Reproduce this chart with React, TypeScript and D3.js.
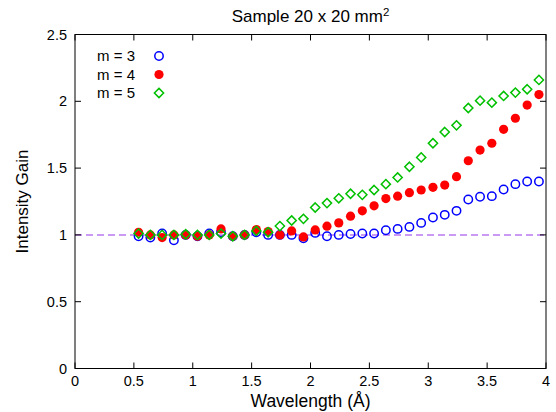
import React from "react"
import { scaleLinear, line } from "d3"

const wavelength = [
  0.54, 0.64, 0.74, 0.84, 0.94, 1.04, 1.14, 1.24, 1.34, 1.44, 1.54, 1.64,
  1.74, 1.84, 1.94, 2.04, 2.14, 2.24, 2.34, 2.44, 2.54, 2.64, 2.74, 2.84,
  2.94, 3.04, 3.14, 3.24, 3.34, 3.44, 3.54, 3.64, 3.74, 3.84, 3.94
]
const gainM3 = [
  0.99, 0.98, 1.01, 0.96, 1.0, 0.99, 1.01, 1.02, 0.99, 1.0, 1.02, 1.0,
  1.0, 1.0, 0.975, 1.015, 0.99, 1.0, 1.007, 1.01, 1.01, 1.035, 1.045, 1.06,
  1.09, 1.13, 1.15, 1.18, 1.265, 1.285, 1.29, 1.34, 1.38, 1.4, 1.4
]
const gainM4 = [
  1.02, 1.0, 0.98, 1.0, 1.0, 0.99, 1.0, 1.045, 0.99, 1.0, 1.04, 1.025,
  1.0, 1.03, 0.985, 1.037, 1.065, 1.09, 1.14, 1.18, 1.218, 1.272, 1.29, 1.316,
  1.336, 1.356, 1.373, 1.436, 1.555, 1.635, 1.686, 1.79, 1.873, 1.972, 2.05
]
const gainM5 = [
  1.01, 1.0, 1.0, 1.0, 1.005, 1.0, 1.0, 1.01, 0.99, 1.0, 1.03, 1.02,
  1.066, 1.108, 1.12, 1.205, 1.238, 1.274, 1.308, 1.3, 1.336, 1.38, 1.43, 1.51,
  1.58, 1.686, 1.77, 1.82, 1.95, 2.005, 1.99, 2.04, 2.065, 2.09, 2.16
]
const xTicks = [0, 0.5, 1, 1.5, 2, 2.5, 3, 3.5, 4]
const yTicks = [0, 0.5, 1, 1.5, 2, 2.5]
const legendLabels = ["m = 3", "m = 4", "m = 5"]

const font = "'Liberation Sans', Arial, sans-serif"

export default function App() {
  const W = 556
  const H = 412
  const margin = { top: 34.5, right: 10, bottom: 43.5, left: 75 }
  const x = scaleLinear().domain([0, 4]).range([margin.left, W - margin.right])
  const y = scaleLinear().domain([0, 2.5]).range([H - margin.bottom, margin.top])
  const tick = 6
  const d = 4.6
  const diamond = line()([[0, -d], [d, 0], [0, d], [-d, 0]]) + "Z"

  const blue = "#0000ff"
  const red = "#ff0000"
  const green = "#00c000"

  const marker = (k: number, cx: number, cy: number, key: string) => {
    if (k === 0)
      return <circle key={key} cx={cx} cy={cy} r={4.2} fill="none" stroke={blue} strokeWidth={1.5} />
    if (k === 1)
      return <circle key={key} cx={cx} cy={cy} r={4.6} fill={red} />
    return (
      <path key={key} d={diamond} transform={`translate(${cx},${cy})`}
        fill="none" stroke={green} strokeWidth={1.5} />
    )
  }

  const series = [gainM3, gainM4, gainM5]

  return (
    <svg width={W} height={H} style={{ position: "absolute", left: 0, top: 0 }} fontFamily={font}>
      <rect width={W} height={H} fill="#fff" />
      {/* dashed reference line */}
      <line x1={x(0)} x2={x(4)} y1={y(1)} y2={y(1)} stroke="#b878f0" strokeWidth={1.5} strokeDasharray="7,4" />

      {series.map((s, k) => (
        <g key={k}>
          {s.map((v, i) => marker(k, x(wavelength[i]), y(v), k + "-" + i))}
        </g>
      ))}

      {/* ticks, mirrored */}
      {xTicks.map(t => (
        <g key={"xt" + t}>
          <line x1={x(t)} x2={x(t)} y1={y(0)} y2={y(0) - tick} stroke="#000" />
          <line x1={x(t)} x2={x(t)} y1={y(2.5)} y2={y(2.5) + tick} stroke="#000" />
          <text x={x(t)} y={y(0) + 17} textAnchor="middle" fontSize={14.5} fill="#000">{t}</text>
        </g>
      ))}
      {yTicks.map(t => (
        <g key={"yt" + t}>
          <line x1={x(0)} x2={x(0) + tick} y1={y(t)} y2={y(t)} stroke="#000" />
          <line x1={x(4)} x2={x(4) - tick} y1={y(t)} y2={y(t)} stroke="#000" />
          <text x={x(0) - 8} y={y(t) + 5} textAnchor="end" fontSize={14.5} fill="#000">{t}</text>
        </g>
      ))}
      <rect x={x(0)} y={y(2.5)} width={x(4) - x(0)} height={y(0) - y(2.5)} fill="none" stroke="#000" strokeWidth={1} />

      {/* legend */}
      {legendLabels.map((l, k) => (
        <g key={l}>
          <text x={135} y={56 + k * 18.5 + 5} textAnchor="end" fontSize={15} fill="#000">{l}</text>
          {marker(k, 159, 56 + k * 18.5, "lg" + k)}
        </g>
      ))}

      <text x={(x(0) + x(4)) / 2} y={22} textAnchor="middle" fontSize={17} fill="#000">
        Sample 20 x 20 mm<tspan dy={-6} fontSize={11.5}>2</tspan>
      </text>
      <text x={(x(0) + x(4)) / 2} y={407} textAnchor="middle" fontSize={17.5} fill="#000">Wavelength (Å)</text>
      <text transform={`translate(28,${(y(0) + y(2.5)) / 2}) rotate(-90)`} textAnchor="middle" fontSize={17} fill="#000">Intensity Gain</text>
    </svg>
  )
}
